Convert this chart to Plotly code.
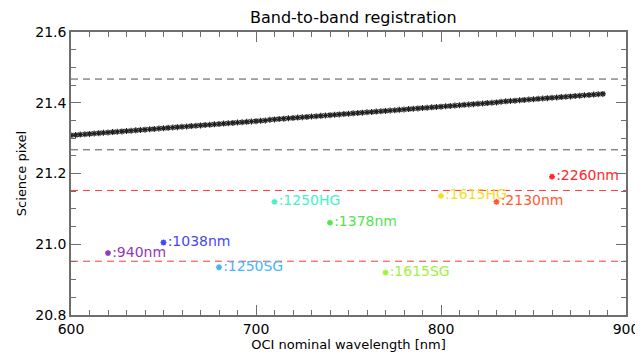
import numpy as np
import plotly.graph_objects as go

# Main series: OCI red-CCD band-to-band registration (science pixel)
wl_start, wl_step, n_wl = 600.0, 2.5, 116
main_pixel = [
    21.308, 21.309, 21.310, 21.311, 21.312, 21.313, 21.314, 21.315, 21.316, 21.317,
    21.318, 21.319, 21.320, 21.321, 21.322, 21.323, 21.324, 21.325, 21.326, 21.327,
    21.328, 21.329, 21.330, 21.331, 21.332, 21.333, 21.334, 21.335, 21.336, 21.337,
    21.338, 21.339, 21.340, 21.341, 21.342, 21.343, 21.344, 21.345, 21.346, 21.347,
    21.348, 21.349, 21.350, 21.352, 21.353, 21.354, 21.355, 21.356, 21.357, 21.358,
    21.359, 21.360, 21.361, 21.362, 21.363, 21.364, 21.365, 21.366, 21.367, 21.368,
    21.369, 21.370, 21.371, 21.372, 21.373, 21.374, 21.375, 21.376, 21.377, 21.378,
    21.379, 21.380, 21.381, 21.382, 21.383, 21.384, 21.385, 21.386, 21.387, 21.388,
    21.389, 21.390, 21.391, 21.392, 21.393, 21.394, 21.395, 21.396, 21.397, 21.398,
    21.399, 21.400, 21.401, 21.403, 21.404, 21.405, 21.406, 21.407, 21.408, 21.409,
    21.410, 21.411, 21.412, 21.413, 21.414, 21.415, 21.416, 21.417, 21.418, 21.419,
    21.420, 21.421, 21.422, 21.423, 21.424, 21.425,
]
main_wl = [wl_start + wl_step * i for i in range(n_wl)]

# SWIR bands (plotted at a nominal x position)
swir_names = [":940nm", ":1038nm", ":1250SG", ":1250HG", ":1378nm",
              ":1615SG", ":1615HG", ":2130nm", ":2260nm"]
swir_x = [620, 650, 680, 710, 740, 770, 800, 830, 860]
swir_pixel = [20.975, 21.005, 20.935, 21.120, 21.061, 20.920, 21.137, 21.120, 21.191]
swir_colors = ["#9438b4", "#4646f5", "#46b4ff", "#46f0c8", "#50e650",
               "#a0f03c", "#f5dc28", "#ff5a32", "#ff2828"]

# Tolerance lines
black_lines = [21.467, 21.267]
red_lines = [21.152, 20.952]

x_range = [600, 900]
y_range = [20.8, 21.6]

fig = go.Figure()

for v in black_lines:
    fig.add_trace(go.Scatter(x=x_range, y=[v, v], mode="lines",
                             line=dict(color="#505050", width=1, dash="7px,5px"),
                             hoverinfo="skip", showlegend=False))
for v in red_lines:
    fig.add_trace(go.Scatter(x=x_range, y=[v, v], mode="lines",
                             line=dict(color="#ff3c3c", width=1, dash="7px,5px"),
                             hoverinfo="skip", showlegend=False))

fig.add_trace(go.Scatter(x=main_wl, y=main_pixel, mode="markers",
                         marker=dict(symbol="asterisk-open", size=5, color="#202020",
                                     line=dict(color="#202020", width=1.2)),
                         showlegend=False))

for name, x, y, c in zip(swir_names, swir_x, swir_pixel, swir_colors):
    fig.add_trace(go.Scatter(x=[x], y=[y], mode="markers+text", text=[name],
                             textposition="middle right",
                             textfont=dict(color=c, size=14, family="DejaVu Sans"),
                             marker=dict(symbol="asterisk-open", size=5, color=c,
                                         line=dict(color=c, width=1.5)),
                             showlegend=False))

axis_common = dict(
    showline=True, linecolor="#6e6e6e", linewidth=1.5, mirror="allticks",
    ticks="inside", ticklen=10, tickwidth=1, tickcolor="#6e6e6e",
    showgrid=False, zeroline=False,
    tickfont=dict(size=14, color="black", family="DejaVu Sans"),
)

fig.update_xaxes(range=x_range, dtick=100, tick0=600,
                 minor=dict(ticks="inside", ticklen=5, dtick=10, tickcolor="#6e6e6e",
                            showgrid=False),
                 title=dict(text="OCI nominal wavelength [nm]",
                            font=dict(size=13, color="black", family="DejaVu Sans"),
                            standoff=4),
                 **axis_common)
fig.update_yaxes(range=y_range, dtick=0.2, tick0=20.8, tickformat=".1f",
                 minor=dict(ticks="inside", ticklen=5, dtick=0.05, tickcolor="#6e6e6e",
                            showgrid=False),
                 title=dict(text="Science pixel",
                            font=dict(size=13, color="black", family="DejaVu Sans"),
                            standoff=6),
                 **axis_common)

fig.update_layout(
    width=643, height=355,
    margin=dict(l=63, r=15, t=24, b=48),
    paper_bgcolor="white", plot_bgcolor="white",
    title=dict(text="Band-to-band registration", x=0.537, xanchor="center",
               y=0.99, yanchor="top",
               font=dict(size=16, color="black", family="DejaVu Sans")),
)

fig.write_html("out.html")
